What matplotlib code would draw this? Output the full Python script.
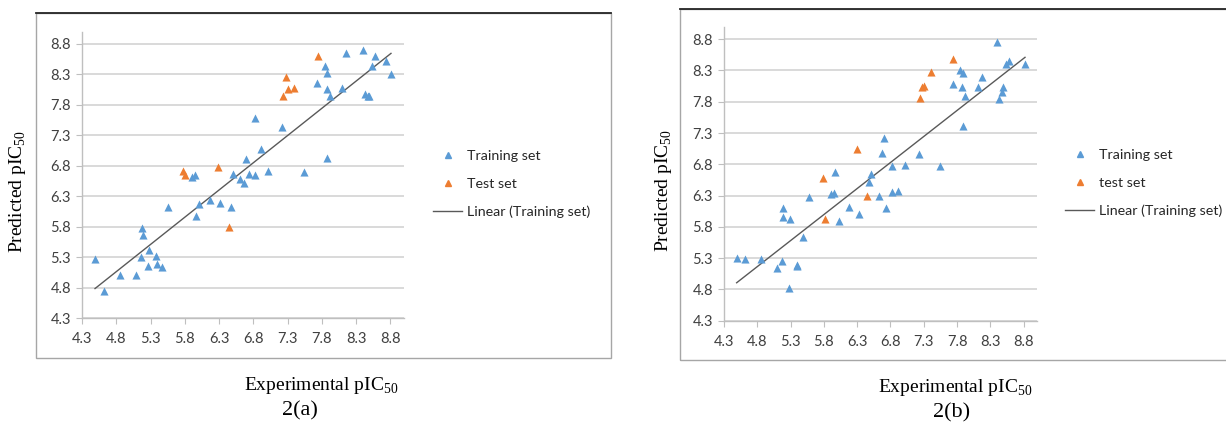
import numpy as np
import matplotlib
matplotlib.use('Agg')
import matplotlib.pyplot as plt
from matplotlib.patches import Rectangle
from matplotlib.lines import Line2D

plt.rcParams['mathtext.fontset'] = 'custom'
plt.rcParams['mathtext.rm'] = 'Liberation Serif'

# ---- data ----
train_a_x = [4.49, 4.62, 4.85, 5.09, 5.16, 5.18, 5.19, 5.28, 5.27, 5.38, 5.40, 5.47,
             5.56, 5.90, 5.95, 5.96, 6.01, 6.17, 6.31, 6.47, 6.50, 6.61, 6.66, 6.69,
             6.74, 6.82, 6.82, 6.91, 7.02, 7.22, 7.54, 7.73, 7.84, 7.88, 7.87, 7.92,
             7.88, 8.10, 8.16, 8.40, 8.43, 8.47, 8.49, 8.53, 8.57, 8.73, 8.81]
train_a_y = [5.27, 4.75, 5.01, 5.00, 5.30, 5.78, 5.66, 5.42, 5.15, 5.31, 5.19, 5.13,
             6.13, 6.62, 6.65, 5.98, 6.17, 6.23, 6.19, 6.13, 6.67, 6.58, 6.52, 6.91,
             6.67, 6.64, 7.59, 7.07, 6.72, 7.44, 6.69, 8.15, 8.43, 8.33, 8.06, 7.95,
             6.93, 8.08, 8.65, 8.70, 7.97, 7.95, 7.94, 8.44, 8.60, 8.52, 8.30]
test_a_x = [5.78, 5.80, 6.29, 6.44, 7.23, 7.28, 7.30, 7.40, 7.74]
test_a_y = [6.71, 6.64, 6.78, 5.79, 7.95, 8.25, 8.06, 8.07, 8.60]

train_b_x = [4.49, 4.62, 4.85, 5.10, 5.17, 5.19, 5.19, 5.29, 5.28, 5.39, 5.40, 5.48,
             5.57, 5.91, 5.95, 5.96, 6.02, 6.17, 6.32, 6.47, 6.51, 6.62, 6.67, 6.70,
             6.74, 6.82, 6.82, 6.91, 7.02, 7.23, 7.55, 7.74, 7.84, 7.89, 7.87, 7.92,
             7.89, 8.11, 8.17, 8.40, 8.43, 8.48, 8.49, 8.54, 8.58, 8.82]
train_b_y = [5.30, 5.28, 5.28, 5.15, 5.26, 6.10, 5.96, 5.93, 4.83, 5.19, 5.18, 5.64,
             6.28, 6.33, 6.34, 6.68, 5.90, 6.11, 6.00, 6.52, 6.64, 6.29, 6.98, 7.22,
             6.10, 6.78, 6.35, 6.38, 6.79, 6.96, 6.78, 8.08, 8.31, 8.26, 8.04, 7.90,
             7.41, 8.04, 8.20, 8.76, 7.84, 7.96, 8.04, 8.40, 8.45, 8.41]
test_b_x = [5.78, 5.82, 6.30, 6.44, 7.24, 7.28, 7.30, 7.41, 7.74]
test_b_y = [6.58, 5.93, 7.04, 6.29, 7.86, 8.04, 8.05, 8.27, 8.49]

ticks = [4.3, 4.8, 5.3, 5.8, 6.3, 6.8, 7.3, 7.8, 8.3, 8.8]

blue = '#5B9BD5'
orange = '#ED7D31'
W, H = 1226, 429

fig = plt.figure(figsize=(12.26, 4.29), dpi=100)


def frac(x0, y0, x1, y1):
    # pixel box (top-left origin) -> figure fraction [l, b, w, h]
    return [x0 / W, 1 - y1 / H, (x1 - x0) / W, (y1 - y0) / H]


def panel(rect, box, tx, ty, sx, sy, test_name, leg_xy, xl_xy, yl_xy, cap, cap_xy):
    # outer frame
    bx0, by0, bx1, by1 = box
    fig.patches.append(Rectangle((bx0 / W, 1 - by1 / H), (bx1 - bx0) / W, (by1 - by0) / H,
                                 transform=fig.transFigure, fill=False,
                                 edgecolor='#A6A6A6', lw=1.0))
    fig.add_artist(Line2D([bx0 / W, bx1 / W], [1 - by0 / H] * 2, color='#262626', lw=1.3))

    ax = fig.add_axes(frac(*rect))
    ax.scatter(tx, ty, marker='^', s=34, color=blue, linewidths=0, zorder=3)
    ax.scatter(sx, sy, marker='^', s=34, color=orange, linewidths=0, zorder=3)
    k, b = np.polyfit(tx, ty, 1)
    xs = np.array([min(tx), max(tx)])
    ax.plot(xs, k * xs + b, color='#595959', lw=1.0, zorder=2)

    ax.set_xlim(4.3, 9.0)
    ax.set_ylim(4.3, 9.0)
    ax.set_xticks(ticks)
    ax.set_yticks(ticks)
    ax.set_xticklabels(['%.1f' % t for t in ticks])
    ax.set_yticklabels(['%.1f' % t for t in ticks])
    for s in ['top', 'right']:
        ax.spines[s].set_visible(False)
    for s in ['left', 'bottom']:
        ax.spines[s].set_color('#BFBFBF')
        ax.spines[s].set_linewidth(1.0)
    ax.grid(axis='y', color='#D9D9D9', lw=1.4)
    ax.set_axisbelow(True)
    ax.tick_params(axis='x', length=4, color='#BFBFBF', labelsize=10.5, labelcolor='#404040', pad=6)
    ax.tick_params(axis='y', length=4, color='#BFBFBF', labelsize=10.5, labelcolor='#404040', pad=4)
    for lab in ax.get_xticklabels() + ax.get_yticklabels():
        lab.set_family('Lato')

    # legend
    lx, ly = leg_xy
    handles = [Line2D([], [], ls='', marker='^', color=blue, markersize=5),
               Line2D([], [], ls='', marker='^', color=orange, markersize=5),
               Line2D([], [], color='#595959', lw=1.0)]
    fig.legend(handles, ['Training set', test_name, 'Linear (Training set)'],
               loc='upper left', bbox_to_anchor=(lx / W, 1 - ly / H), frameon=False,
               prop={'family': 'Lato', 'size': 10.3}, handlelength=2.05, handletextpad=0.3,
               labelspacing=1.1, borderpad=0, borderaxespad=0, labelcolor='#262626')

    fig.text(xl_xy[0] / W, 1 - xl_xy[1] / H, 'Experimental pIC$_{50}$', ha='center', va='center',
             family='Liberation Serif', fontsize=14)
    fig.text(yl_xy[0] / W, 1 - yl_xy[1] / H, 'Predicted pIC$_{50}$', ha='center', va='center',
             rotation=90, family='Liberation Serif', fontsize=14)
    fig.text(cap_xy[0] / W, 1 - cap_xy[1] / H, cap, ha='center', va='center',
             family='Liberation Serif', fontsize=16)
    return ax


panel((82, 31.7, 404, 318), (36, 13, 611, 358), train_a_x, train_a_y, test_a_x, test_a_y,
      'Test set', (433, 150), (321, 386), (18, 191), '2(a)', (300, 411))
panel((724, 26.7, 1037, 320.7), (680, 9, 1240, 360), train_b_x, train_b_y, test_b_x, test_b_y,
      'test set', (1065, 149), (955, 388), (663, 190), '2(b)', (952, 413))

fig.savefig('out.png', dpi=100)
